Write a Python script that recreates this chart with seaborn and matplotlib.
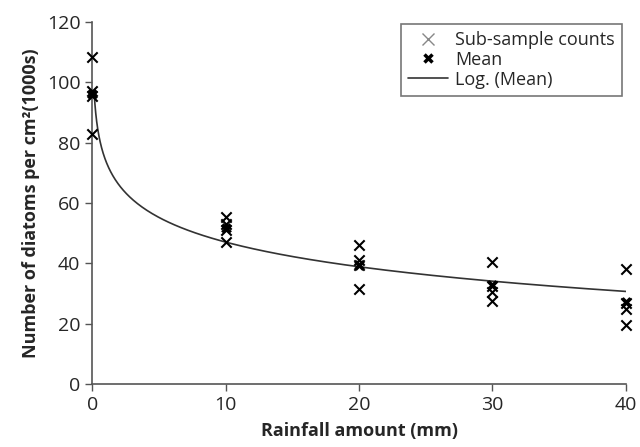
import numpy as np
import pandas as pd
import matplotlib
matplotlib.use("Agg")
import matplotlib.pyplot as plt
import seaborn as sns
from matplotlib.lines import Line2D

# Rainfall amount (mm) and sub-sample diatom counts (1000s per cm2)
rain_sub = [0, 0, 0, 0, 10, 10, 10, 10, 20, 20, 20, 20, 30, 30, 30, 30, 40, 40, 40, 40]
counts_sub = [108.5, 97.0, 95.5, 83.0, 55.5, 53.0, 51.0, 47.0,
              46.0, 41.0, 39.5, 31.5, 40.5, 32.5, 30.5, 27.5, 38.0, 27.0, 25.0, 19.5]

# Means per rainfall amount
rain_mean = [0, 10, 20, 30, 40]
counts_mean = [96.0, 51.6, 39.5, 32.7, 27.2]

# Logarithmic trendline coefficients (y = a + b ln x)
log_a = 74.2
log_b = -11.8
trend_x = np.geomspace(0.15, 40, 300)

sns.set_style("white")
plt.rcParams['font.family'] = ['Open Sans', 'DejaVu Sans']

fig = plt.figure(figsize=(6.4, 4.47), dpi=100)
ax = fig.add_axes([0.144, 0.141, 0.834, 0.81])

trend = pd.DataFrame({"x": trend_x, "y": log_a + log_b * np.log(trend_x)})
sns.lineplot(data=trend, x="x", y="y", ax=ax, color="#333333", linewidth=1.2)

sub = pd.DataFrame({"x": rain_sub, "y": counts_sub})
sns.scatterplot(data=sub, x="x", y="y", ax=ax, marker="x", color="black",
                s=55, linewidth=1.5, clip_on=False, zorder=3)
mean = pd.DataFrame({"x": rain_mean, "y": counts_mean})
sns.scatterplot(data=mean, x="x", y="y", ax=ax, marker="x", color="black",
                s=35, linewidth=2.6, clip_on=False, zorder=4)

ax.set_xlim(0, 40)
ax.set_ylim(0, 120)
ax.set_xticks([0, 10, 20, 30, 40])
ax.set_yticks(range(0, 121, 20))
ax.tick_params(axis='both', labelsize=14, direction='out', length=5,
               color="#555555", width=1, left=True, bottom=True)
for side in ['top', 'right']:
    ax.spines[side].set_visible(False)
for side in ['left', 'bottom']:
    ax.spines[side].set_color("#555555")
    ax.spines[side].set_linewidth(1.2)

ax.set_xlabel("Rainfall amount (mm)", fontsize=13, fontweight="bold", labelpad=6)
ax.set_ylabel("Number of diatoms per cm²(1000s)", fontsize=13,
              fontweight="bold", labelpad=5)

handles = [
    Line2D([], [], marker="x", color="#888888", linestyle="none",
           markersize=8, markeredgewidth=1.0),
    Line2D([], [], marker="x", color="black", linestyle="none",
           markersize=6, markeredgewidth=2.5),
    Line2D([], [], color="#333333", linewidth=1.2),
]
leg = ax.legend(handles, ["Sub-sample counts", "Mean", "Log. (Mean)"],
                loc="upper right", bbox_to_anchor=(1.01, 1.02), fontsize=13,
                frameon=True, fancybox=False, handlelength=2.2,
                handletextpad=0.4, labelspacing=0.1, borderpad=0.4)
leg.get_frame().set_edgecolor("#555555")
leg.get_frame().set_linewidth(1.2)

fig.savefig("out.png", dpi=100)
